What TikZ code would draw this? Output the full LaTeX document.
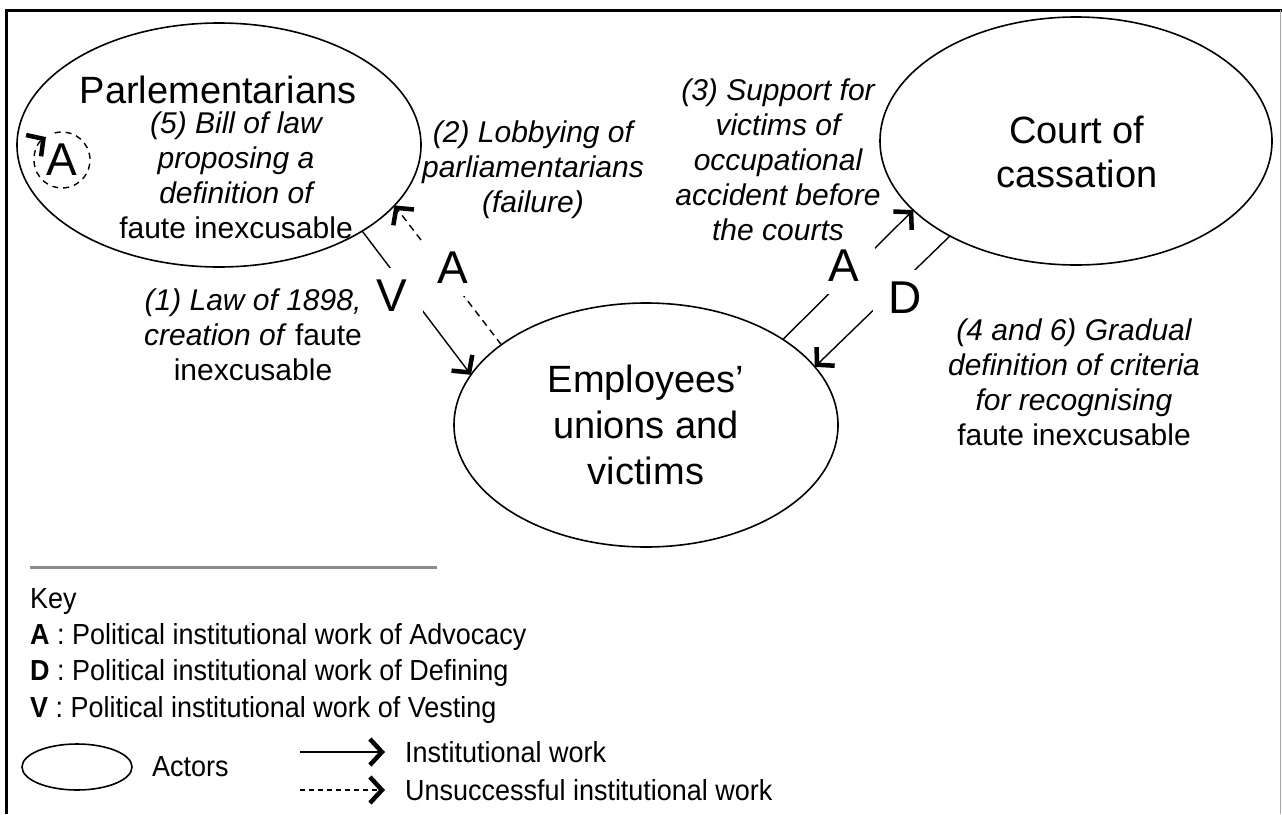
\documentclass[tikz,border=0pt]{standalone}
\usepackage{fontspec}
\setmainfont{Liberation Sans}
\newfontfamily\keyfont[FakeStretch=0.93]{Liberation Sans}
\usetikzlibrary{positioning,arrows.meta,shapes.geometric}

\tikzset{
  actor/.style={draw, ellipse, line width=1.6pt, inner sep=0pt, outer sep=0pt, align=center, font=\fontsize{38}{46}\selectfont},
  actorname/.style={align=center, inner sep=0pt, font=\fontsize{38}{44}\selectfont},
  worklabel/.style={align=center, inner sep=0pt, font=\fontsize{30}{35}\selectfont\itshape},
  letter/.style={fill=white, inner xsep=16pt, inner ysep=12pt, font=\fontsize{46}{50}\selectfont},
  keytext/.style={anchor=west, inner sep=0pt, font=\keyfont\fontsize{29}{34}\selectfont},
  tip/.style={-{Straight Barb[length=12pt, width=26pt, line width=4.5pt]}},
  work/.style={line width=1.4pt, tip},
  fail/.style={work, dash pattern=on 7pt off 5pt}
}

\begin{document}
\begin{tikzpicture}[x=1pt, y=1pt]
\useasboundingbox (0,0) rectangle (1282,-814);
% frame
\draw[line width=3pt] (6,-814) -- (6,-10) -- (1282,-10);
\draw[black!35, line width=1pt] (1280,-10) -- (1280,-814);

% actors
\node[actor, minimum width=404pt, minimum height=244pt] (parl) at (219,-145) {};
\node[actorname] (parlname) at (218,-90) {Parlementarians};
\node[actor, minimum width=392pt, minimum height=248pt] (court) at (1076,-141) {};
\node[actorname] (courtname) at (1077,-152) {Court of\\cassation};
\node[actor, minimum width=384pt, minimum height=244pt] (emp) at (646,-425) {Employees'\\unions and\\victims};

% work inside the parliament
\node[worklabel] (bill) at (236,-175) {(5) Bill of law\\proposing a\\definition of\\\textup{faute inexcusable}};
\node[circle, minimum size=56pt, inner sep=0pt, outer sep=0pt, font=\fontsize{46}{50}\selectfont] (selfA) at (62,-160) {A};
\draw[line width=1.4pt, dash pattern=on 6pt off 5pt, tip] (selfA.105) arc[start angle=105, end angle=-235, radius=28pt];

% institutional work between actors
\draw[work] (parl.-31) -- node[letter, xshift=-25pt, yshift=7pt] (vlet) {V} (emp.164);
\draw[fail] (emp.151) -- node[letter, xshift=5pt, yshift=7pt] (alob) {A} (parl.-19);
\draw[work] (emp.32) -- node[letter, xshift=-4pt, yshift=9pt] (asup) {A} (court.-157);
\draw[work] (court.-143) -- node[letter, xshift=23pt, yshift=4pt] (dcrit) {D} (emp.19);

% labels
\node[worklabel] (law) at (253,-335) {(1) Law of 1898,\\creation of \textup{faute}\\\textup{inexcusable}};
\node[worklabel] (lobby) at (533,-170) {(2) Lobbying of\\parliamentarians\\(failure)};
\node[worklabel] (support) at (778,-160) {(3) Support for\\victims of\\occupational\\accident before\\the courts};
\node[worklabel] (criteria) at (1074,-382) {(4 and 6) Gradual\\definition of criteria\\for recognising\\\textup{faute inexcusable}};

% key
\draw[black!45, line width=3pt] (30,-567) -- (437,-567);
\node[keytext] (keyhead) at (30,-602) {Key};
\node[keytext] (keyA) at (30,-637) {\textbf{A} : Political institutional work of Advocacy};
\node[keytext] (keyD) at (30,-673) {\textbf{D} : Political institutional work of Defining};
\node[keytext] (keyV) at (30,-710) {\textbf{V} : Political institutional work of Vesting};
\node[actor, minimum width=110pt, minimum height=46pt] (keyactor) at (77,-767) {};
\node[keytext] (keyactortxt) at (152,-767) {Actors};
\coordinate (kwork) at (300,-752);
\coordinate (kfail) at (300,-790);
\node[keytext] (kworktxt) at (405,-752) {Institutional work};
\node[keytext] (kfailtxt) at (405,-790) {Unsuccessful institutional work};
\draw[work] (kwork) -- ([xshift=-20pt]kworktxt.west);
\draw[fail, dash pattern=on 5pt off 4pt] (kfail) -- ([xshift=-20pt]kfailtxt.west);
\end{tikzpicture}
\end{document}
